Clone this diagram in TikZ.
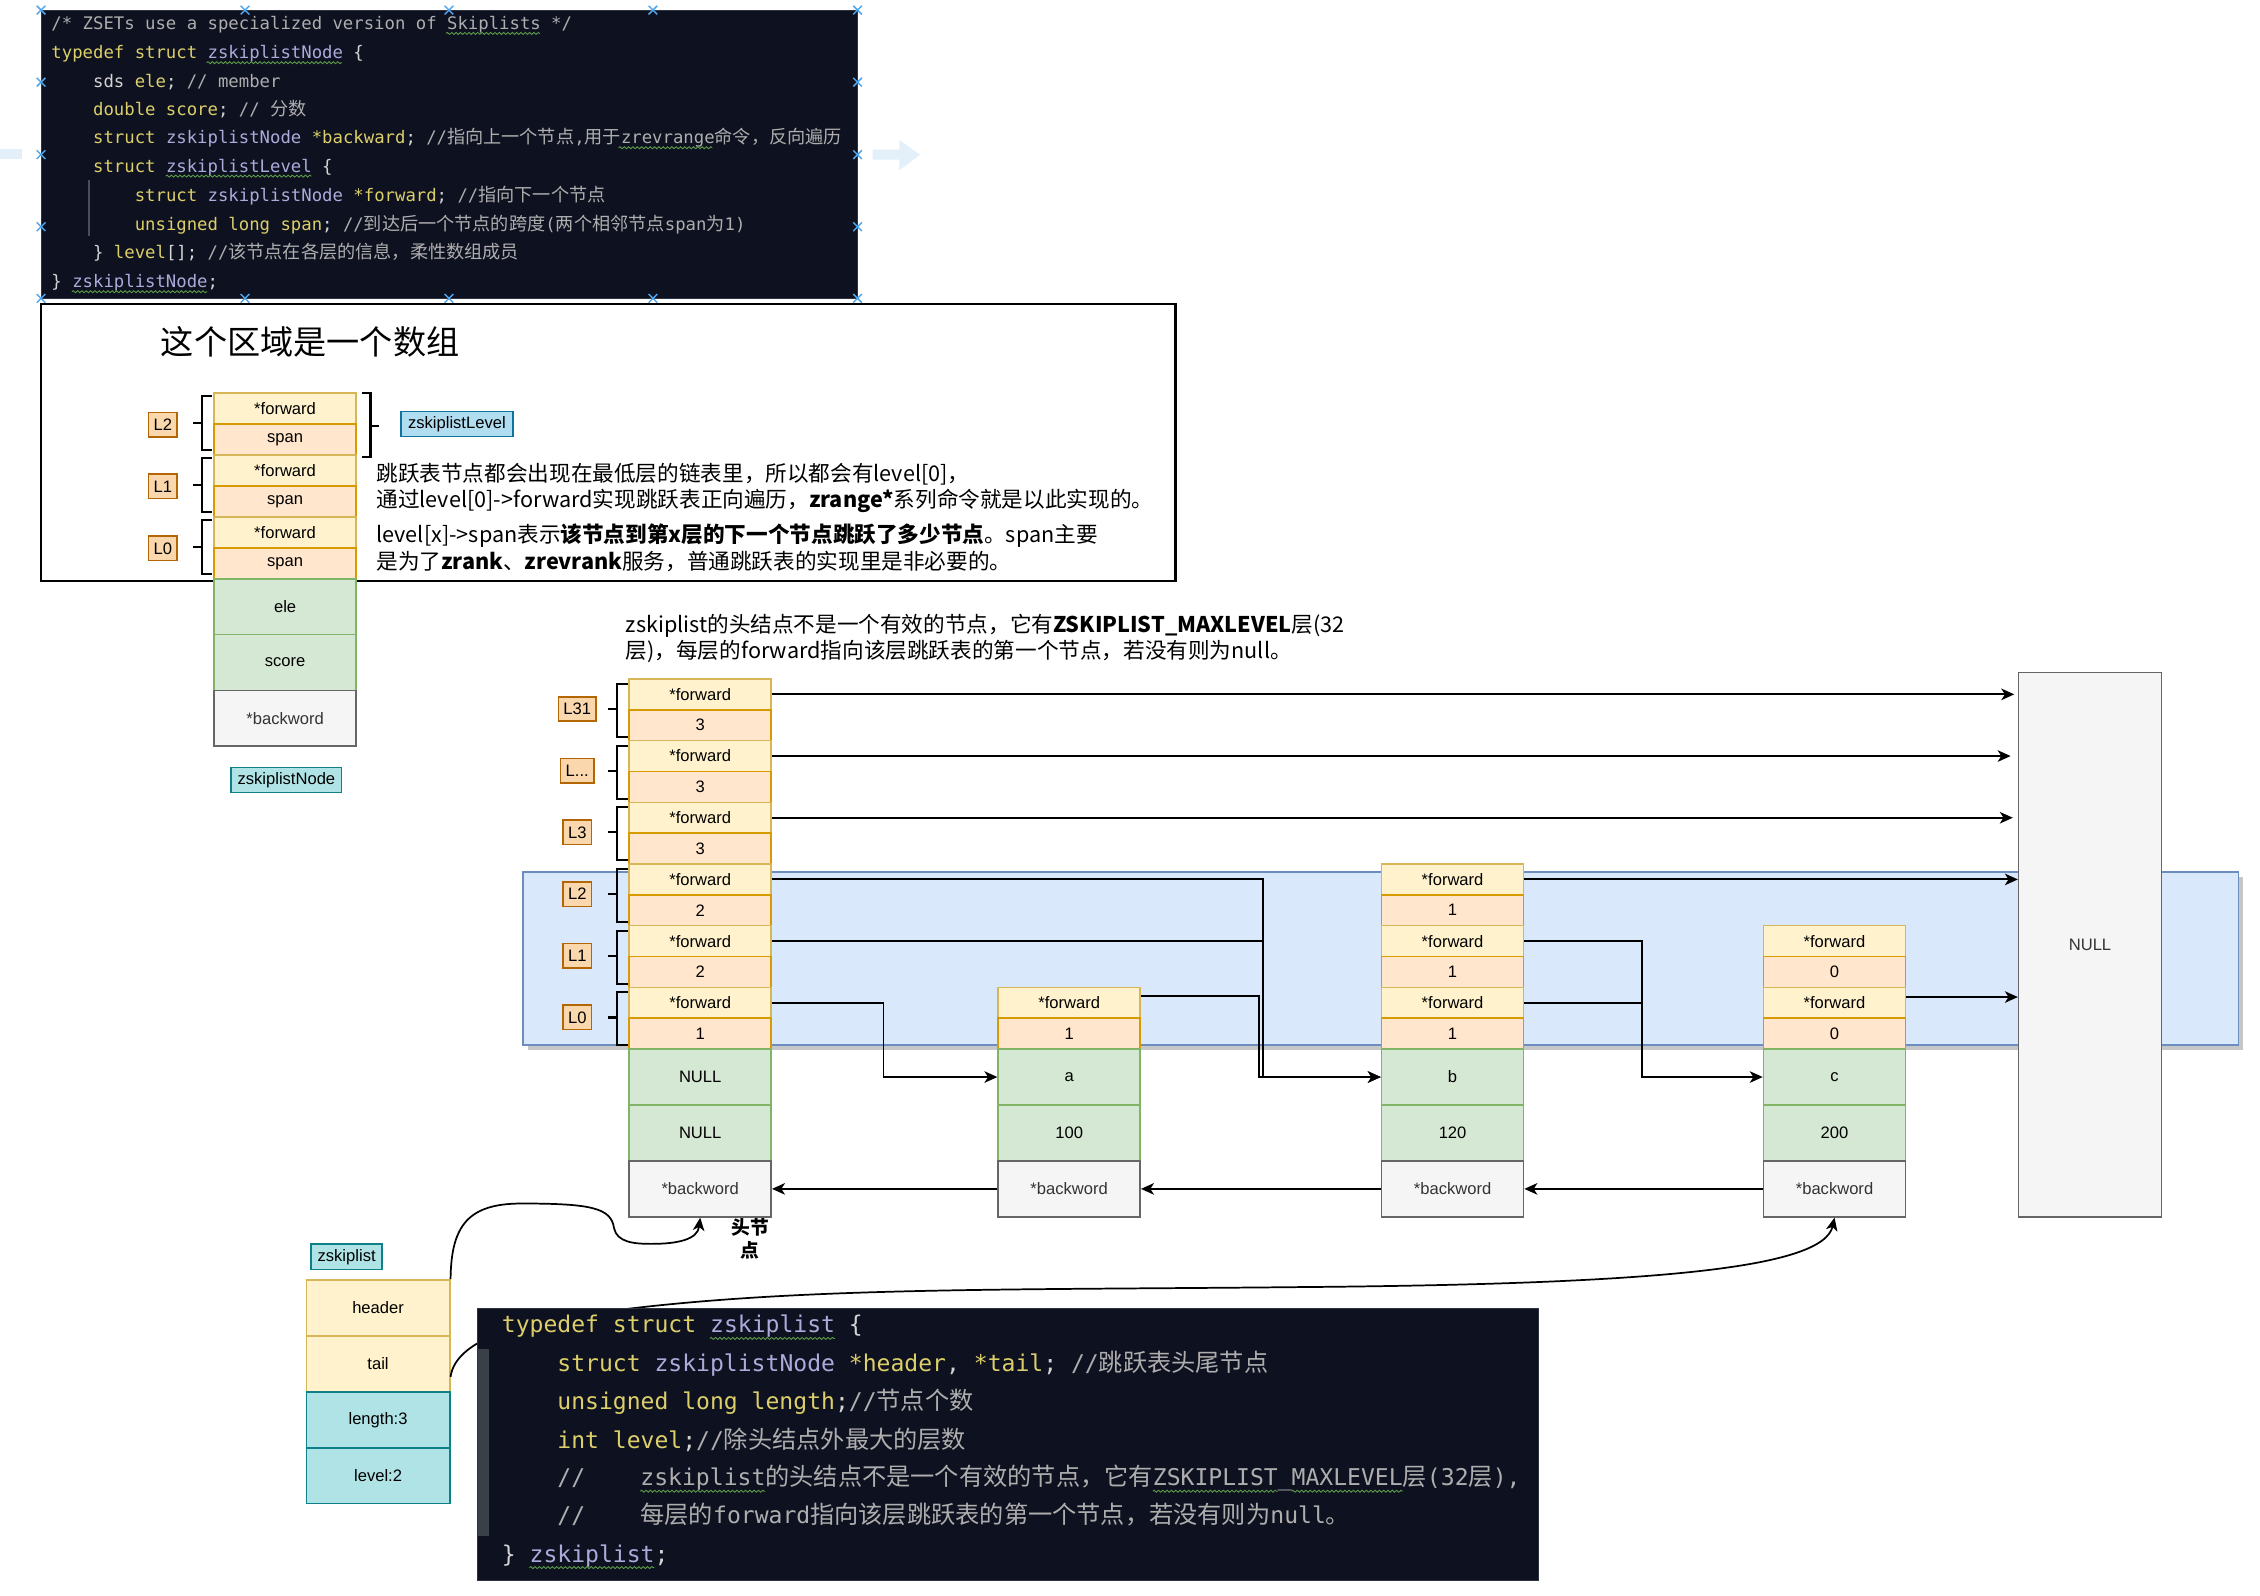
\documentclass[tikz,border=0pt]{standalone}
\usepackage{fontspec}
\setmainfont{Liberation Sans}
\setmonofont{DejaVu Sans Mono}
\newfontfamily\cjk{Noto Sans CJK SC}
\newfontfamily\cjkc{Noto Sans CJK SC}[Scale=1.05]
\usetikzlibrary{arrows.meta,decorations.pathmorphing}
\newcommand{\myfs}[1]{\fontsize{#1}{#1}\selectfont}
\newcommand{\kwd}[1]{\textcolor{ckw}{#1}}
\newcommand{\typ}[1]{\textcolor{ctype}{#1}}
\newcommand{\cmt}[1]{\textcolor{ccom}{#1}}
\newcommand{\pln}[1]{\textcolor{cpl}{#1}}
\definecolor{fwdF}{HTML}{FFF2CC}\definecolor{fwdD}{HTML}{D6B656}
\definecolor{spnF}{HTML}{FFE6CC}\definecolor{spnD}{HTML}{D79B00}
\definecolor{grnF}{HTML}{D5E8D4}\definecolor{grnD}{HTML}{82B366}
\definecolor{gryF}{HTML}{F5F5F5}\definecolor{gryD}{HTML}{666666}
\definecolor{txtG}{HTML}{333333}
\definecolor{lblF}{HTML}{FAD7AC}\definecolor{lblD}{HTML}{B46504}
\definecolor{tealF}{HTML}{B0E3E6}\definecolor{tealD}{HTML}{0E8088}
\definecolor{lvlF}{HTML}{B1DDF0}\definecolor{lvlD}{HTML}{10739E}
\definecolor{bandF}{HTML}{DAE8FC}\definecolor{bandD}{HTML}{6C8EBF}
\definecolor{codeBG}{HTML}{0E1120}
\definecolor{codeRim}{HTML}{2E3340}
\definecolor{gutter}{HTML}{3A4048}
\definecolor{guide}{HTML}{4A4E5A}
\definecolor{ckw}{HTML}{DCCF6A}
\definecolor{ctype}{HTML}{ABABDB}
\definecolor{ccom}{HTML}{AEAEAE}
\definecolor{cpl}{HTML}{D4D4D4}
\definecolor{selx}{HTML}{4FA6EE}
\definecolor{hover}{HTML}{E3F0FA}
\definecolor{squig}{HTML}{5E9E4A}
\tikzset{
  cell/.style={draw, line width=1.1pt, anchor=north west, minimum width=98.5pt, inner sep=0pt, font=\myfs{11.5}},
  fwd/.style={cell, fill=fwdF, draw=fwdD, minimum height=21.4pt},
  spn/.style={cell, fill=spnF, draw=spnD, minimum height=21.4pt},
  grn/.style={cell, fill=grnF, draw=grnD, minimum height=38.8pt},
  gry/.style={cell, fill=gryF, draw=gryD, text=txtG, minimum height=38.8pt},
  lbl/.style={draw=lblD, fill=lblF, line width=1.1pt, font=\myfs{11.5}, inner xsep=3.5pt, inner ysep=0pt, minimum height=17pt},
  tealtag/.style={draw=tealD, fill=tealF, line width=1.1pt, font=\myfs{11.5}, inner xsep=4.5pt, inner ysep=0pt, minimum height=17.5pt},
  lvltag/.style={draw=lvlD, fill=lvlF, line width=1.1pt, font=\myfs{11.5}, inner xsep=5pt, inner ysep=0pt, minimum height=17.5pt},
  brk/.style={line width=1.5pt},
  conn/.style={line width=1.3pt},
  arr/.style={conn, -{Stealth[length=9pt,width=8pt,inset=2.5pt]}},
  codeln/.style={anchor=base west, inner sep=0pt, font=\ttfamily\myfs{12}, text=cpl},
  codelnb/.style={codeln, font=\ttfamily\myfs{16}},
  para/.style={anchor=base west, inner sep=0pt, font=\cjk\myfs{15}},
  squ/.style={draw=squig, line width=0.6pt, decorate, decoration={snake, segment length=3pt, amplitude=0.7pt}},
  selmark/.style={draw=selx, line width=1pt},
}
\begin{document}
\begin{tikzpicture}[x=1pt,y=-1pt]
\useasboundingbox (0,0) rectangle (1568,1107.3);
\fill[white] (0,0) rectangle (1568,1107.3);

% ---------- top code block ----------
\fill[hover] (0,103.6) rectangle (15,110);
\fill[hover] (605.5,103.8) -- (624,103.8) -- (624,97.1) -- (638.3,107.4) -- (624,118) -- (624,110.8) -- (605.5,110.8) -- cycle;
\draw[fill=codeBG, draw=codeRim, line width=0.8pt] (28.5,7) rectangle (595,207);
\draw[guide, line width=0.8pt] (61.7,125) -- (61.7,164);
\node[codeln] (t1) at (35.5,20.5) {\cmt{/* ZSETs use a specialized version of Skiplists */}};
\node[codeln] (t2) at (35.5,40.8) {\kwd{typedef struct} \typ{zskiplistNode} \pln{\{}};
\node[codeln] (t3) at (64.4,60.5) {\pln{sds} \kwd{ele}\pln{;} \cmt{// member}};
\node[codeln] (t4) at (64.4,80.1) {\kwd{double score}\pln{;} \cmt{// {\cjkc 分数}}};
\node[codeln] (t5) at (64.4,99.8) {\kwd{struct} \typ{zskiplistNode} \kwd{*backward}\pln{;} \cmt{//{\cjkc 指向上一个节点},{\cjkc 用于}zrevrange{\cjkc 命令，反向遍历}}};
\node[codeln] (t6) at (64.4,119.5) {\kwd{struct} \typ{zskiplistLevel} \pln{\{}};
\node[codeln] (t7) at (93.3,139.6) {\kwd{struct} \typ{zskiplistNode} \kwd{*forward}\pln{;} \cmt{//{\cjkc 指向下一个节点}}};
\node[codeln] (t8) at (93.3,159.7) {\kwd{unsigned long span}\pln{;} \cmt{//{\cjkc 到达后一个节点的跨度}({\cjkc 两个相邻节点}span{\cjkc 为}1)}};
\node[codeln] (t9) at (64.4,179.3) {\pln{\}} \kwd{level}\pln{[];} \cmt{//{\cjkc 该节点在各层的信息，柔性数组成员}}};
\node[codeln] (t10) at (35.5,199.7) {\pln{\}} \typ{zskiplistNode}\pln{;}};
\draw[squ] (309.5,23.2) -- (374.5,23.2);
\draw[squ] (143.4,43.5) -- (237.3,43.5);
\draw[squ] (429.2,102.5) -- (494.2,102.5);
\draw[squ] (115,122.2) -- (216.1,122.2);
\draw[squ] (49.9,202.4) -- (143.8,202.4);
\foreach \mx in {28.5,170,311.5,453,595}{
  \draw[selmark] (\mx-3,4) -- (\mx+3,10) (\mx-3,10) -- (\mx+3,4);
  \draw[selmark] (\mx-3,204) -- (\mx+3,210) (\mx-3,210) -- (\mx+3,204);
}
\foreach \my in {57,107.3,157.3}{
  \draw[selmark] (25.5,\my-3) -- (31.5,\my+3) (25.5,\my+3) -- (31.5,\my-3);
  \draw[selmark] (592,\my-3) -- (598,\my+3) (592,\my+3) -- (598,\my-3);
}

% ---------- array region ----------
\draw[line width=1.6pt] (28.5,210.8) rectangle (815.5,403);
\node[anchor=west, inner sep=0pt, font=\cjk\myfs{23}] (title) at (111.5,237) {这个区域是一个数组};

\node[fwd, minimum height=21.5pt] (lf2) at (148,272) {*forward};
\node[spn, minimum height=21.5pt] (ls2) at (148,293.5) {span};
\node[fwd, minimum height=21.5pt] (lf1) at (148,315) {*forward};
\node[spn, minimum height=21.5pt] (ls1) at (148,336.5) {span};
\node[fwd, minimum height=21.5pt] (lf0) at (148,358) {*forward};
\node[spn, minimum height=21.5pt] (ls0) at (148,379.5) {span};
\node[grn, minimum height=38.7pt] (lele) at (148,401) {ele};
\node[grn, minimum height=38.7pt] (lsc) at (148,439.7) {score};
\node[gry, minimum height=38.7pt] (lbk) at (148,478.4) {*backword};
\node[tealtag] (tagnode) at (198.7,541.2) {zskiplistNode};

\foreach \ta/\tb in {272/315,315/358,358/401}{
  \draw[brk] (147,\ta+3) -- (140,\ta+3) -- (140,\tb-3) -- (147,\tb-3);
  \draw[brk] (140,{(\ta+\tb)/2}) -- (134,{(\ta+\tb)/2});
}
\node[lbl] (ll2) at (113,294.6) {L2};
\node[lbl] (ll1) at (113,337.5) {L1};
\node[lbl] (ll0) at (113,380.5) {L0};
\draw[brk] (251.5,272.5) -- (257,272.5) -- (257,317.3) -- (251.5,317.3);
\draw[brk] (257,295.3) -- (263,295.3);
\node[lvltag] (tagLevel) at (317,294.2) {zskiplistLevel};

\node[para] (p1) at (261,333.9) {跳跃表节点都会出现在最低层的链表里，所以都会有level[0]，};
\node[para] (p2) at (261,352.4) {通过level[0]->forward实现跳跃表正向遍历，\textbf{zrange*}系列命令就是以此实现的。};
\node[para] (p3) at (261,376.7) {level[x]->span表示\textbf{该节点到第x层的下一个节点跳跃了多少节点}。span主要};
\node[para] (p4) at (261,395.2) {是为了\textbf{zrank}、\textbf{zrevrank}服务，普通跳跃表的实现里是非必要的。};

% ---------- skiplist ----------
\node[para] (m1) at (434,438.7) {zskiplist的头结点不是一个有效的节点，它有\textbf{ZSKIPLIST\_MAXLEVEL}层(32};
\node[para] (m2) at (434,456.9) {层)，每层的forward指向该层跳跃表的第一个节点，若没有则为null。};

\fill[black!22] (366.5,608.5) rectangle (1556.5,728.5);
\draw[draw=bandD, fill=bandF, line width=1.1pt] (363,605) rectangle (1553,725);

\node[cell, fill=gryF, draw=gryD, text=txtG, minimum width=99pt, minimum height=378pt] (nul) at (1400,466) {NULL};

% header node
\node[fwd] (h31f) at (436,470.5) {*forward};
\node[spn] (h31s) at (436,491.9) {3};
\node[fwd] (hxf) at (436,513.3) {*forward};
\node[spn] (hxs) at (436,534.7) {3};
\node[fwd] (h3f) at (436,556.1) {*forward};
\node[spn] (h3s) at (436,577.5) {3};
\node[fwd] (h2f) at (436,598.9) {*forward};
\node[spn] (h2s) at (436,620.3) {2};
\node[fwd] (h1f) at (436,641.7) {*forward};
\node[spn] (h1s) at (436,663.1) {2};
\node[fwd] (h0f) at (436,684.5) {*forward};
\node[spn] (h0s) at (436,705.9) {1};
\node[grn] (hele) at (436,727.3) {NULL};
\node[grn] (hsc) at (436,766.1) {NULL};
\node[gry] (hbk) at (436,804.9) {*backword};

\foreach \ta/\tb in {470.5/513.3,513.3/556.1,556.1/598.9,598.9/641.7,641.7/684.5,684.5/727.3}{
  \draw[brk] (435.5,\ta+4) -- (428,\ta+4) -- (428,\tb-2) -- (435.5,\tb-2);
  \draw[brk] (428,{(\ta+\tb)/2}) -- (422,{(\ta+\tb)/2});
}
\node[lbl] (l31) at (400.5,491.9) {L31};
\node[lbl] (lxx) at (400.5,534.7) {L...};
\node[lbl] (l3) at (400.5,577.5) {L3};
\node[lbl] (l2) at (400.5,620.3) {L2};
\node[lbl] (l1) at (400.5,663.1) {L1};
\node[lbl] (l0) at (400.5,705.9) {L0};

% node a
\node[fwd] (af) at (692,684.5) {*forward};
\node[spn] (as) at (692,705.9) {1};
\node[grn] (aele) at (692,727.3) {a};
\node[grn] (asc) at (692,766.1) {100};
\node[gry] (abk) at (692,804.9) {*backword};
% node b
\node[fwd] (b2f) at (958,598.9) {*forward};
\node[spn] (b2s) at (958,620.3) {1};
\node[fwd] (b1f) at (958,641.7) {*forward};
\node[spn] (b1s) at (958,663.1) {1};
\node[fwd] (b0f) at (958,684.5) {*forward};
\node[spn] (b0s) at (958,705.9) {1};
\node[grn] (bele) at (958,727.3) {b};
\node[grn] (bsc) at (958,766.1) {120};
\node[gry] (bbk) at (958,804.9) {*backword};
% node c
\node[fwd] (c1f) at (1223,641.7) {*forward};
\node[spn] (c1s) at (1223,663.1) {0};
\node[fwd] (c0f) at (1223,684.5) {*forward};
\node[spn] (c0s) at (1223,705.9) {0};
\node[grn] (cele) at (1223,727.3) {c};
\node[grn] (csc) at (1223,766.1) {200};
\node[gry] (cbk) at (1223,804.9) {*backword};

% forward pointers
\draw[arr, shorten >=2.5pt] (h31f.east) -- (nul.west |- h31f.east);
\draw[arr, shorten >=5pt] (hxf.east) -- (nul.west |- hxf.east);
\draw[arr, shorten >=3.5pt] (h3f.east) -- (nul.west |- h3f.east);
\draw[arr] (b2f.east) -- (nul.west |- b2f.east);
\coordinate (cA) at ([yshift=4pt]c0f.east);
\draw[arr] (cA) -- (cA -| nul.west);

\coordinate (j0) at (613,0);
\coordinate (jb) at (876,0);
\coordinate (ja) at (873.3,0);
\coordinate (jc) at (1139,0);
\coordinate (aA) at ([yshift=5pt]af.east);
\draw[arr] (h0f.east) -| (j0 |- aele.west) -- (aele.west);
\draw[conn] (h1f.east) -- (h1f.east -| jb);
\draw[arr] (h2f.east) -| (jb |- bele.west) -- (bele.west);
\draw[arr] (aA) -| (ja |- bele.west) -- (bele.west);
\draw[conn] (b0f.east) -- (b0f.east -| jc);
\draw[arr] (b1f.east) -| (jc |- cele.west) -- (cele.west);

% backward pointers
\draw[arr] (abk.west) -- (hbk.east);
\draw[arr] (bbk.west) -- (abk.east);
\draw[arr] (cbk.west) -- (bbk.east);

% ---------- zskiplist struct ----------
\node[tealtag] (tagList) at (240.5,872) {zskiplist};
\node[cell, fill=fwdF, draw=fwdD, minimum width=99.5pt, minimum height=38.8pt] (zhdr) at (212,887.5) {header};
\node[cell, fill=fwdF, draw=fwdD, minimum width=99.5pt, minimum height=38.8pt] (ztail) at (212,926.3) {tail};
\node[cell, fill=tealF, draw=tealD, minimum width=99.5pt, minimum height=38.8pt] (zlen) at (212,965.1) {length:3};
\node[cell, fill=tealF, draw=tealD, minimum width=99.5pt, minimum height=38.8pt] (zlvl) at (212,1003.9) {level:2};

\draw[line width=1.2pt, -{Stealth[length=9pt,width=8pt,inset=2.5pt]}] (zhdr.north east) .. controls (313,850) and (325,835) .. (362,835) .. controls (410,835) and (424,838) .. (426,852) .. controls (428,862) and (440,863) .. (452,863) .. controls (470,863) and (484,860) .. (hbk.south);
\coordinate (tA) at ([yshift=-9pt]ztail.east);
\draw[line width=1.2pt, -{Stealth[length=9pt,width=8pt,inset=2.5pt]}] (tA) .. controls (316,930) and (360,915) .. (432.7,908.4) .. controls (560,893) and (700,895) .. (900,893) .. controls (1150,891) and (1265,880) .. (cbk.south);

\node[inner sep=0pt, align=center, font=\cjk\bfseries\fontsize{13}{16}\selectfont] (toulbl) at (520.5,859.5) {头节\\点};

% ---------- bottom code block ----------
\draw[fill=codeBG, draw=codeRim, line width=0.8pt] (331,908) rectangle (1067.5,1096.7);
\fill[gutter] (331.5,936) rectangle (339.5,1066);
\node[codelnb] (k1) at (348,924.8) {\kwd{typedef struct} \typ{zskiplist} \pln{\{}};
\node[codelnb] (k2) at (386.5,951.8) {\kwd{struct} \typ{zskiplistNode} \kwd{*header}\pln{,} \kwd{*tail}\pln{;} \cmt{//{\cjkc 跳跃表头尾节点}}};
\node[codelnb] (k3) at (386.5,977.8) {\kwd{unsigned long length}\pln{;}\cmt{//{\cjkc 节点个数}}};
\node[codelnb] (k4) at (386.5,1004.8) {\kwd{int level}\pln{;}\cmt{//{\cjkc 除头结点外最大的层数}}};
\node[codelnb] (k5) at (386.5,1030.8) {\cmt{//\hspace{2.4em}zskiplist{\cjkc 的头结点不是一个有效的节点，它有}ZSKIPLIST\_MAXLEVEL{\cjkc 层}(32{\cjkc 层}),}};
\node[codelnb] (k6) at (386.5,1056.8) {\cmt{//\hspace{2.4em}{\cjkc 每层的}forward{\cjkc 指向该层跳跃表的第一个节点，若没有则为}null{\cjkc 。}}};
\node[codelnb] (k7) at (348,1083.8) {\pln{\}} \typ{zskiplist}\pln{;}};
\draw[squ] (492.5,928.6) -- (579.2,928.6);
\draw[squ] (444.3,1034.6) -- (531,1034.6);
\draw[squ] (799.8,1034.6) -- (886.5,1034.6);
\draw[squ] (896.1,1034.6) -- (973.2,1034.6);
\draw[squ] (367.3,1087.6) -- (454,1087.6);
\end{tikzpicture}
\end{document}
